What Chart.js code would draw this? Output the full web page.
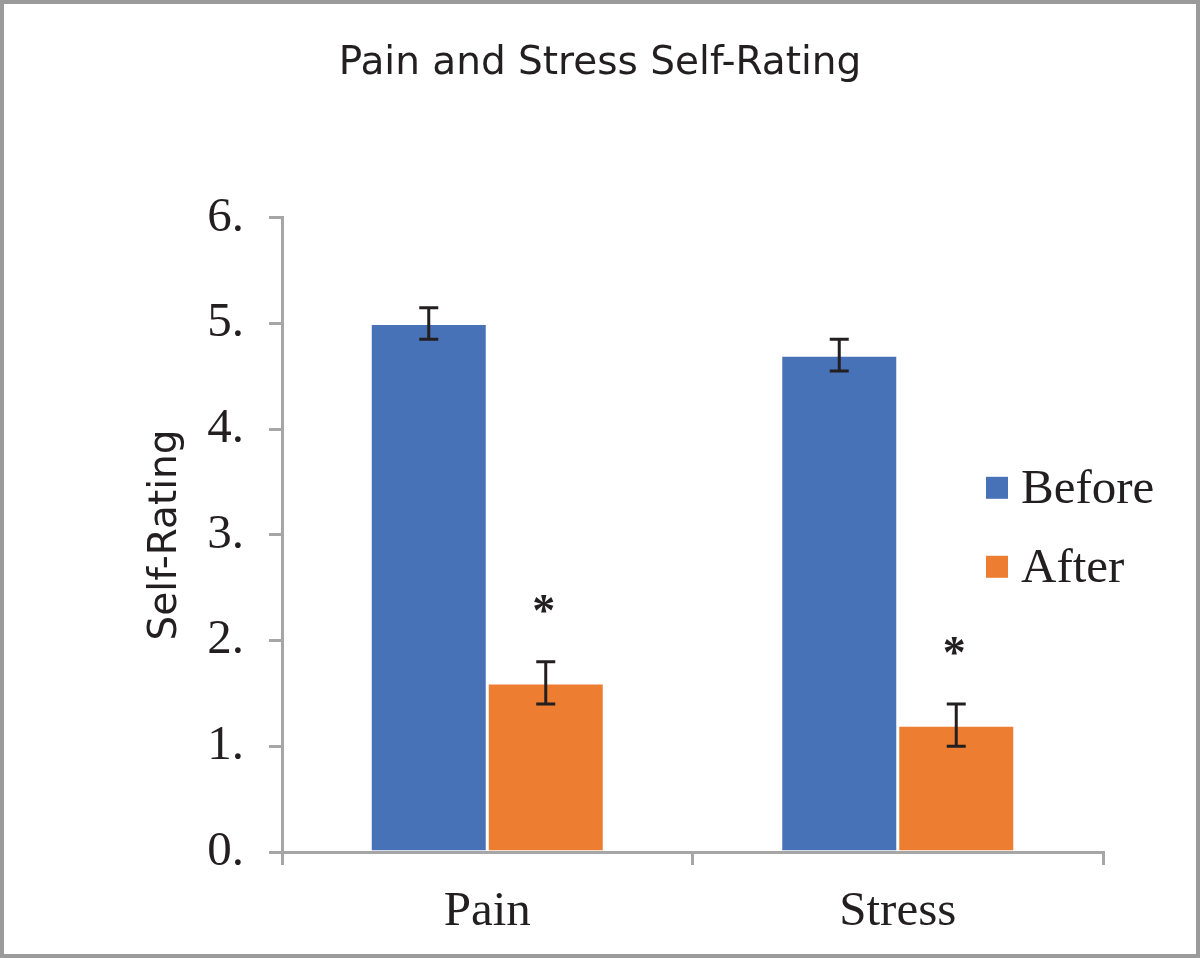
<!DOCTYPE html>
<html>
<head>
<meta charset="utf-8">
<title>Pain and Stress Self-Rating</title>
<script src="https://cdn.jsdelivr.net/npm/chart.js@4.4.0/dist/chart.umd.min.js"></script>
<style>
  html, body { margin: 0; padding: 0; background: #fff; }
  #chart { display: block; }
</style>
</head>
<body>
<canvas id="chart" width="1200" height="958"></canvas>
<script>
const categories = ['Pain', 'Stress'];
const seriesLabels = ['Before', 'After'];
const beforeValues = [5.0, 4.7];
const afterValues = [1.6, 1.2];
const beforeErrors = [0.15, 0.15];
const afterErrors = [0.2, 0.2];
const beforeSignificant = [false, false];
const afterSignificant = [true, true];
const yMin = 0;
const yMax = 6;
const yStep = 1;

const blue = '#4872B8';
const orange = '#ED7D31';
const axisGray = '#A6A6A6';
const ink = '#231F20';
const serif = '"Liberation Serif", "Times New Roman", serif';
const sans = '"DejaVu Sans", sans-serif';

const errors = [beforeErrors, afterErrors];
const significant = [beforeSignificant, afterSignificant];

// white page with the thin grey frame
const framePlugin = {
  id: 'frame',
  beforeDraw(chart) {
    const ctx = chart.ctx;
    ctx.save();
    ctx.fillStyle = '#fff';
    ctx.fillRect(0, 0, chart.width, chart.height);
    ctx.restore();
  },
  afterDraw(chart) {
    const ctx = chart.ctx;
    ctx.save();
    ctx.strokeStyle = '#9B9B9B';
    ctx.lineWidth = 4;
    ctx.strokeRect(2, 2, chart.width - 4, chart.height - 4);
    ctx.restore();
  }
};

// error bars and significance stars
const errorBarPlugin = {
  id: 'errorBars',
  afterDatasetsDraw(chart) {
    const ctx = chart.ctx;
    const y = chart.scales.y;
    ctx.save();
    chart.data.datasets.forEach((ds, i) => {
      const meta = chart.getDatasetMeta(i);
      meta.data.forEach((bar, j) => {
        const v = ds.data[j];
        const e = errors[i][j];
        const top = y.getPixelForValue(v + e);
        const bottom = y.getPixelForValue(v - e);
        const cap = 9.5;
        ctx.strokeStyle = ink;
        ctx.lineWidth = 3;
        ctx.beginPath();
        ctx.moveTo(bar.x, top);
        ctx.lineTo(bar.x, bottom);
        ctx.moveTo(bar.x - cap, top);
        ctx.lineTo(bar.x + cap, top);
        ctx.moveTo(bar.x - cap, bottom);
        ctx.lineTo(bar.x + cap, bottom);
        ctx.stroke();
        if (significant[i][j]) {
          ctx.fillStyle = ink;
          ctx.font = 'bold 46px ' + serif;
          ctx.textAlign = 'center';
          ctx.textBaseline = 'middle';
          ctx.fillText('*', bar.x - 2, top - 48);
        }
      });
    });
    ctx.restore();
  }
};

// legend sitting inside the plot, right side
const legendPlugin = {
  id: 'sideLegend',
  afterDraw(chart) {
    const ctx = chart.ctx;
    const area = chart.chartArea;
    const x = area.right - 117;
    const rows = [area.top + 270, area.top + 349];
    ctx.save();
    chart.data.datasets.forEach((ds, i) => {
      const cy = rows[i];
      ctx.fillStyle = ds.backgroundColor;
      ctx.fillRect(x, cy - 11, 22, 22);
      ctx.fillStyle = ink;
      ctx.font = '49px ' + serif;
      ctx.textAlign = 'left';
      ctx.textBaseline = 'middle';
      ctx.fillText(ds.label, x + 35, cy + 2);
    });
    ctx.restore();
  }
};

new Chart(document.getElementById('chart'), {
  type: 'bar',
  data: {
    labels: categories,
    datasets: [
      {
        label: seriesLabels[0],
        data: beforeValues,
        backgroundColor: blue,
        borderColor: '#fff',
        borderWidth: 1.5,
        categoryPercentage: 0.57,
        barPercentage: 1.0
      },
      {
        label: seriesLabels[1],
        data: afterValues,
        backgroundColor: orange,
        borderColor: '#fff',
        borderWidth: 1.5,
        categoryPercentage: 0.57,
        barPercentage: 1.0
      }
    ]
  },
  options: {
    responsive: false,
    animation: false,
    devicePixelRatio: 1,
    layout: { padding: 0 },
    plugins: {
      legend: { display: false },
      tooltip: { enabled: false },
      title: {
        display: true,
        text: 'Pain and Stress Self-Rating',
        color: ink,
        font: { family: sans, size: 39, weight: 'normal', lineHeight: 1.2 },
        padding: { top: 40, bottom: 131 }
      }
    },
    scales: {
      x: {
        grid: {
          offset: true,
          drawOnChartArea: false,
          drawTicks: true,
          tickLength: 13,
          color: axisGray,
          lineWidth: 3
        },
        border: { display: true, color: axisGray, width: 3 },
        ticks: {
          color: ink,
          font: { family: serif, size: 49 },
          padding: 18
        },
        afterFit(scale) { scale.height = 106; }
      },
      y: {
        min: yMin,
        max: yMax,
        grid: {
          drawOnChartArea: false,
          drawTicks: true,
          tickLength: 13,
          color: axisGray,
          lineWidth: 3
        },
        border: { display: true, color: axisGray, width: 3 },
        ticks: {
          stepSize: yStep,
          color: ink,
          font: { family: serif, size: 49 },
          padding: 25,
          callback: v => v + '.'
        },
        title: {
          display: true,
          text: 'Self-Rating',
          color: ink,
          font: { family: sans, size: 39, weight: 'normal', lineHeight: 1.2 },
          padding: { top: 142, bottom: 0 }
        },
        afterFit(scale) { scale.width = 282; }
      },
      // empty strip on the right so the plot ends where the reference does
      yRight: {
        position: 'right',
        min: yMin,
        max: yMax,
        grid: { display: false },
        border: { display: false },
        ticks: { display: false },
        afterFit(scale) { scale.width = 97; }
      }
    }
  },
  plugins: [framePlugin, errorBarPlugin, legendPlugin]
});
</script>
</body>
</html>
